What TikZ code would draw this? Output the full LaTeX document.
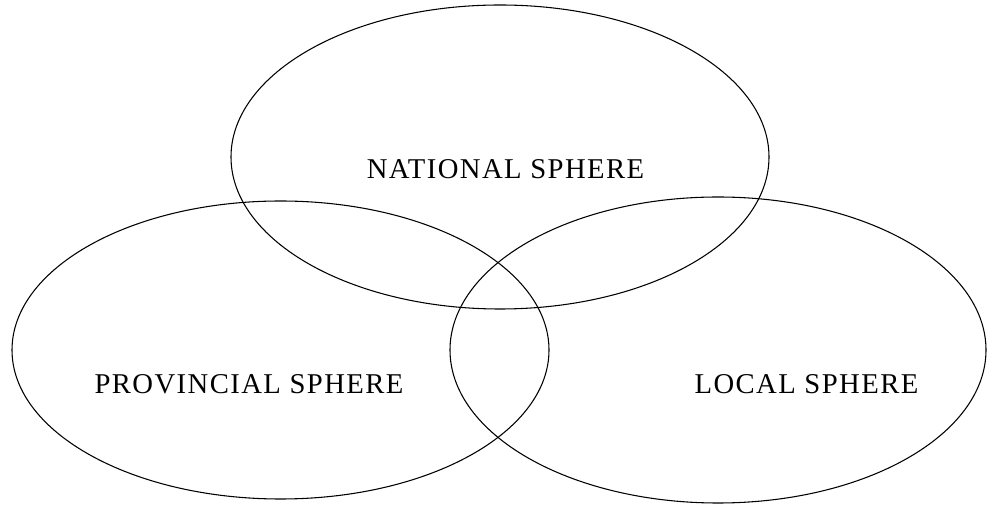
\documentclass[tikz,border=0pt]{standalone}
\usepackage{fontspec}
\setmainfont{Liberation Serif}[LetterSpace=5]
\usetikzlibrary{shapes.geometric}

\begin{document}
\begin{tikzpicture}[
  x=0.75pt, y=-0.75pt,
  font=\fontsize{21.5}{24}\selectfont,
  sphere/.style={draw, ellipse, line width=0.8pt, inner sep=0pt},
  tag/.style={inner sep=0pt, align=center}
]
  \useasboundingbox (0,0) rectangle (989,505);

  \node[sphere, minimum width=403.5pt, minimum height=228pt] (national) at (500,157) {};
  \node[sphere, minimum width=402.75pt, minimum height=223.5pt] (provincial) at (280.5,350) {};
  \node[sphere, minimum width=402pt, minimum height=229.5pt] (local) at (718,350) {};

  \node[tag] (nationaltag) at (505.5,169) {NATIONAL SPHERE};
  \node[tag] (provincialtag) at (249,384) {PROVINCIAL SPHERE};
  \node[tag] (localtag) at (806.5,384) {LOCAL SPHERE};
\end{tikzpicture}
\end{document}
